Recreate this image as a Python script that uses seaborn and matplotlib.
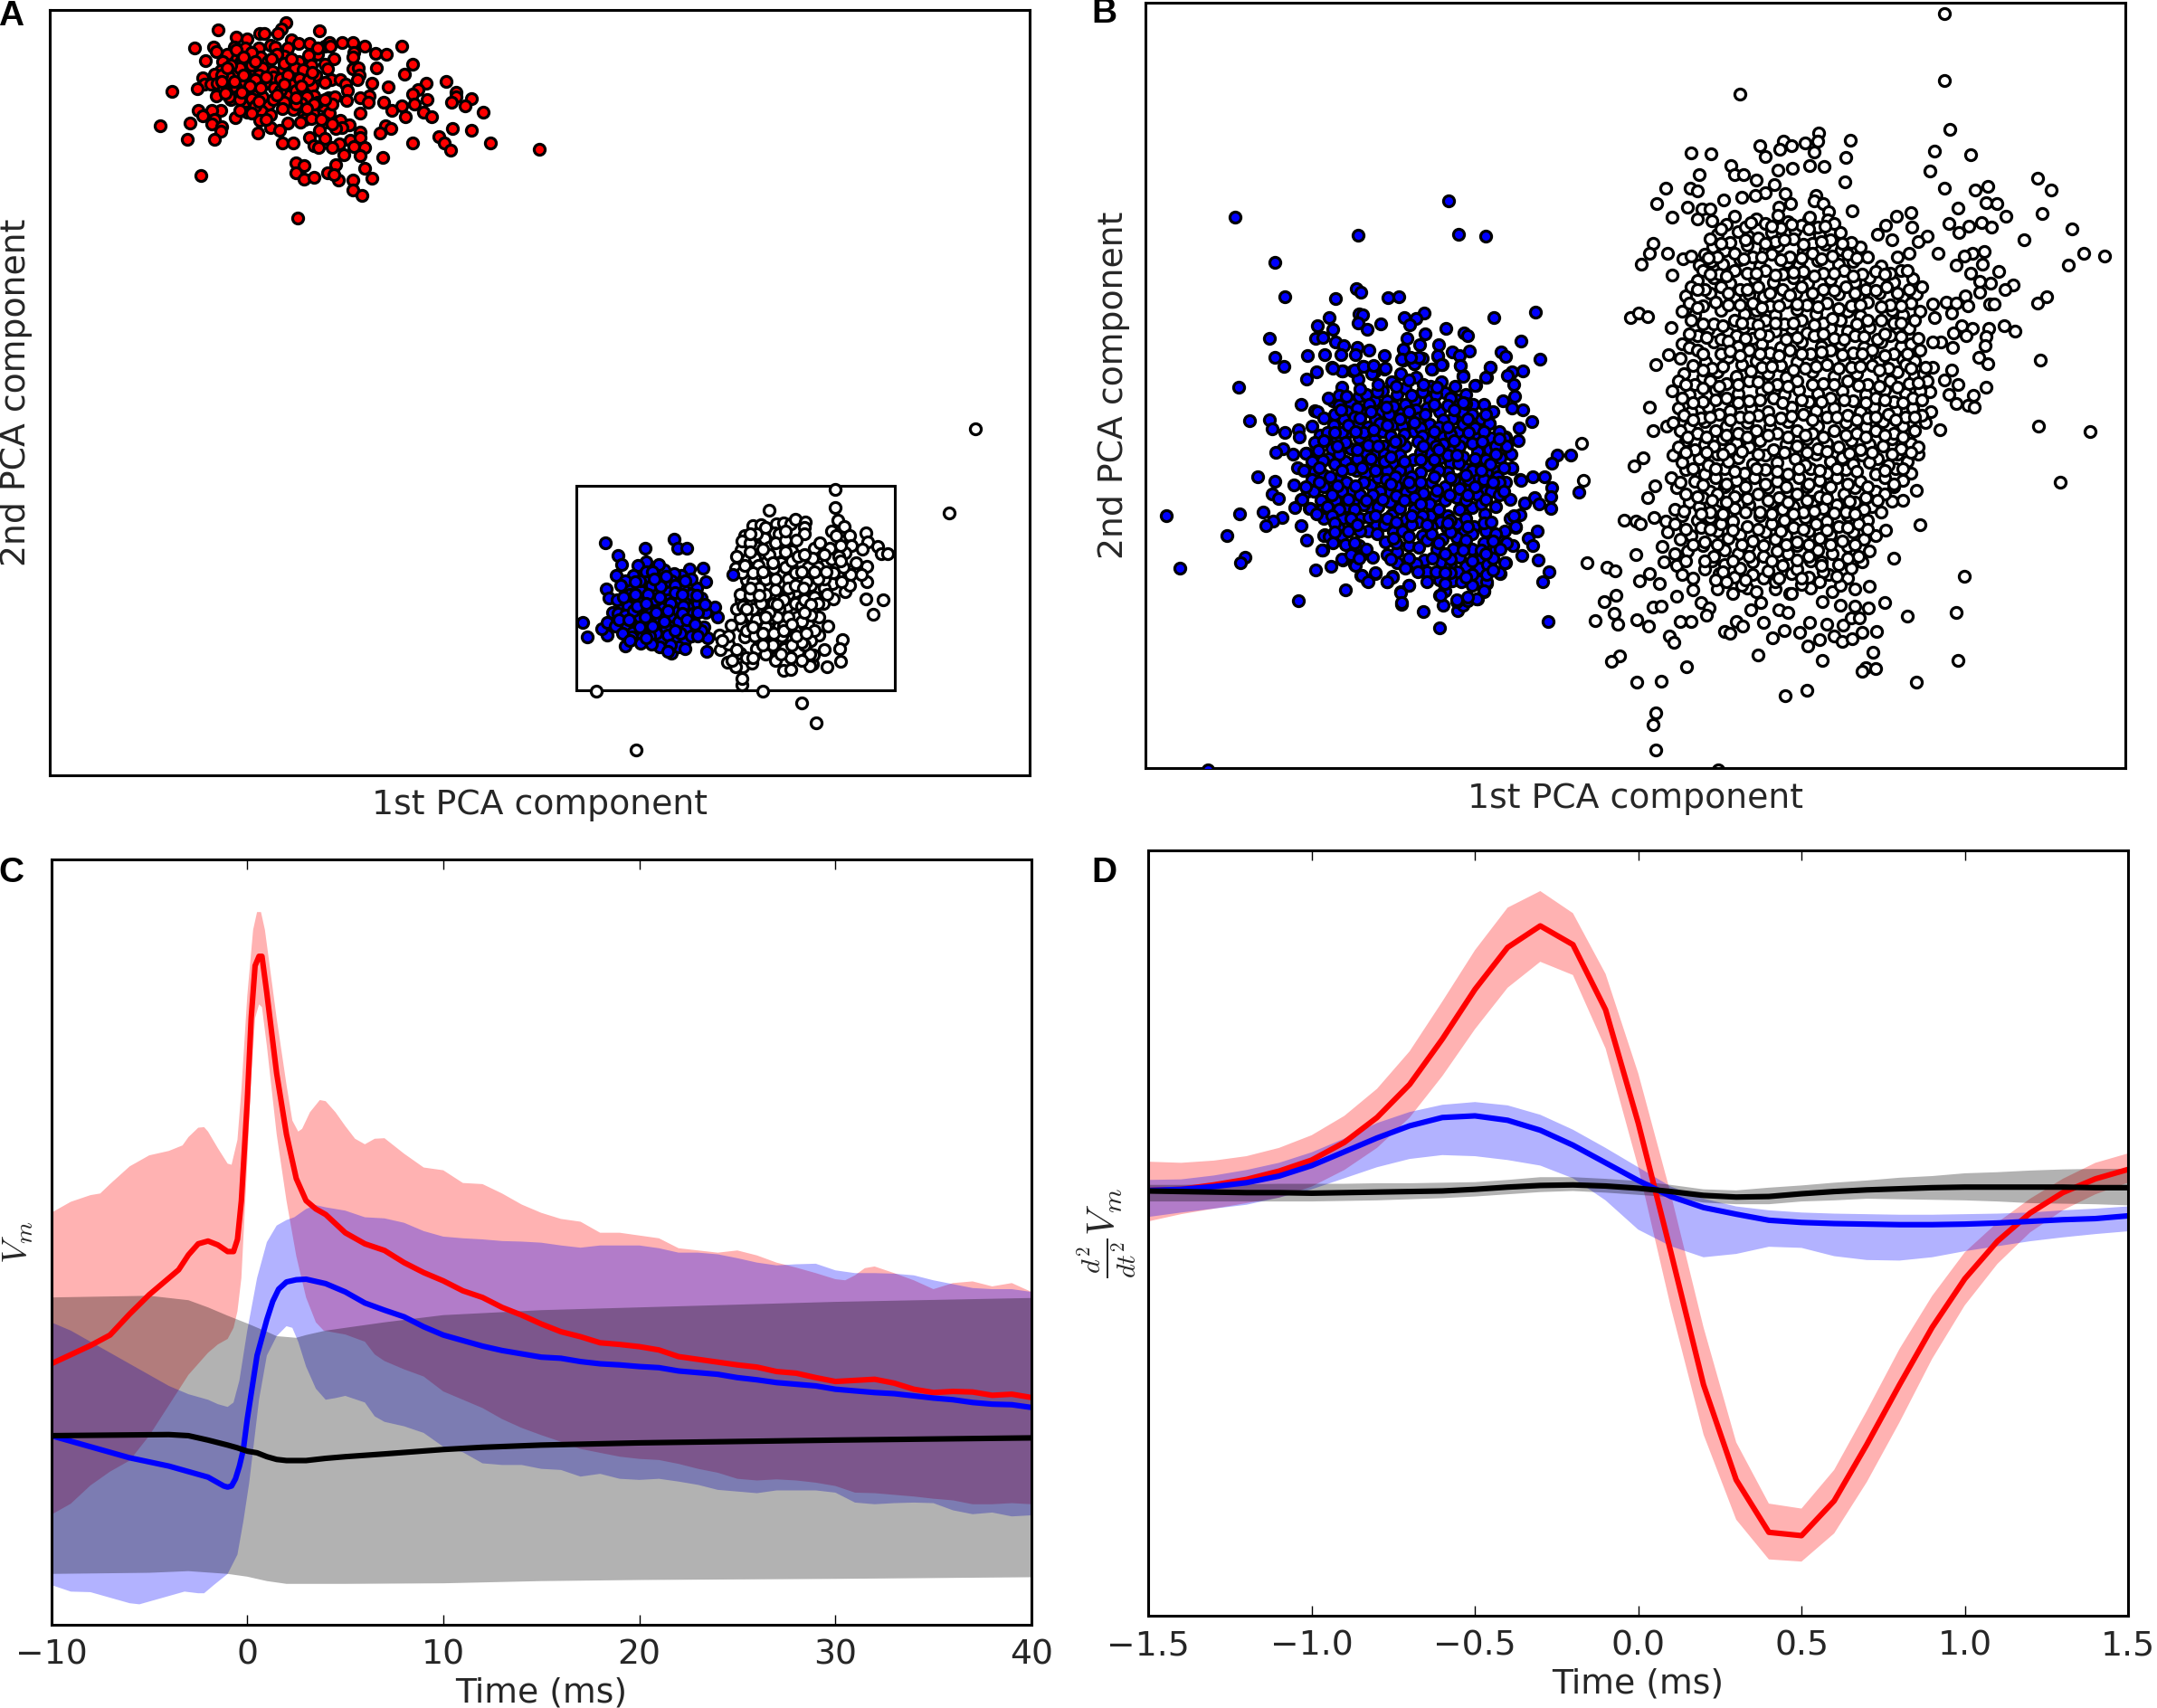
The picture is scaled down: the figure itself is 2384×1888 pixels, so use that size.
import numpy as np
import matplotlib
matplotlib.use("Agg")
import matplotlib.pyplot as plt
from matplotlib.patches import Rectangle
import seaborn as sns

# ---------- Panel A ----------
A_RED = [(773,75),(762,95),(752,112),(590,100),(864,103),(703,110),(715,112),(640,122),(668,128),(788,133),(808,145),(838,143),(880,152),(893,140),(895,153),(925,140),(955,140),(988,153),(1088,153),(527,158),(578,157),(585,172),(635,156),(665,160),(700,160),(733,150),(745,157),(780,158),(1016,177),(1045,180),(958,173),(955,190),(903,195),(860,180),(836,183),(770,185),(705,190),(645,197),(628,187),(615,180),(557,202),(603,205),(655,208),(725,205),(808,205),(842,215),(880,212),(1117,214),(1018,224),(888,228),(955,228),(970,225),(798,225),(820,230),(768,232),(737,237),(688,232),(597,234),(580,245),(642,243),(1095,245),(972,250),(855,250),(968,265),(897,263),(880,272),(920,265),(937,280),(1008,276),(1153,276),(1208,270),(1052,289),(549,257),(553,278),(533,293),(570,280),(588,275),(615,282),(655,275),(718,277),(787,280),(845,284),(742,290),(692,303),(673,292),(640,290),(605,295),(466,303),(585,318),(640,322),(625,330),(680,327),(940,300),(1132,298),(1235,305),(1118,312),(1235,322),(1277,327),(1000,317),(975,323),(890,325),(907,322),(850,318),(830,322),(778,318),(938,332),(1157,330),(1222,340),(1122,345),(1088,352),(1040,340),(998,340),(875,350),(817,343),(727,346),(660,350),(597,365),(573,367),(537,365),(1260,352),(1060,365),(793,363),(708,368),(670,372),(733,380),(975,375),(1308,373),(1147,372),(1097,386),(1168,388),(847,375),(893,375),(822,382),(548,385),(638,390),(580,395),(702,400),(826,397),(843,392),(880,405),(778,407),(814,405),(433,416),(514,408),(573,412),(601,420),(920,398),(945,415),(925,423),(910,425),(733,422),(758,432),(865,432),(1043,416),(1058,425),(1028,440),(1225,427),(1277,433),(597,435),(698,440),(975,438),(507,461),(580,461),(837,457),(880,460),(947,465),(975,455),(1188,452),(765,473),(795,473),(1117,475),(1202,475),(1327,475),(918,477),(850,482),(862,490),(898,490),(958,485),(987,490),(1220,497),(1460,495),(932,514),(975,516),(1037,523),(908,545),(801,540),(823,549),(987,557),(800,572),(887,572),(823,595),(849,589),(917,596),(1008,592),(955,597),(543,583),(955,631),(981,647),(805,724),(905,580),(680,215),(710,225),(650,225),(625,215),(700,250),(740,255),(760,260),(810,260),(690,265),(620,255),(600,250),(760,300),(800,300),(710,320),(740,330),(650,330),(620,320),(690,350),(770,340),(800,345),(860,340),(900,345),(770,210),(750,180),(680,175),(640,165),(660,190),(690,205),(735,195),(790,195),(615,225),(660,250),(720,255),(780,250),(835,265),(600,270),(635,270),(675,285),(705,290),(770,280),(815,285),(610,310),(655,305),(700,335),(750,315),(800,325),(850,345),(650,365),(680,375),(765,360),(720,395),(870,395),(900,410),(880,330),(830,360),(860,160),(845,240)]
A_BLUE = [(192,301),(316,317),(407,287),(417,318),(446,318),(233,341),(243,372),(228,408),(195,452),(205,482),(123,565),(137,612),(198,607),(181,584),(198,565),(256,641),(508,659),(510,615),(398,665),(588,405),(495,385),(454,388),(503,428),(540,545),(531,512),(505,530),(498,578),(491,483),(475,450),(460,420),(428,407),(405,402),(375,391),(357,372),(318,362),(293,375),(318,395),(281,407),(360,428),(397,425),(265,445),(300,452),(345,463),(388,462),(435,450),(440,482),(460,515),(408,518),(351,506),(372,515),(303,517),(307,490),(243,508),(263,510),(230,490),(215,530),(232,535),(280,560),(330,538),(360,560),(395,548),(465,535),(445,578),(405,575),(380,583),(318,568),(302,604),(260,575),(225,575),(278,598),(368,627),(410,623),(440,623),(458,610),(490,590),(350,600),(420,645),(360,645),(303,632),(275,612),(330,610),(270,470),(320,430),(345,490),(420,560),(300,545),(480,500),(385,490),(290,490),(255,540),(420,490),(335,440),(300,425),(380,430),(410,440),(340,395),(380,410),(440,425),(255,425),(285,430),(240,440),(250,480),(285,470),(325,470),(365,445),(410,465),(460,470),(480,530),(500,505),(435,510),(395,500),(325,515),(280,525),(235,555),(265,555),(315,545),(350,530),(385,525),(430,535),(445,555),(375,560),(340,575),(300,580),(245,600),(270,625),(335,635),(385,605),(425,600),(470,570),(480,610),(440,650),(395,640),(385,660),(320,615),(360,480),(290,510),(320,500),(410,590),(475,475),(345,420),(430,470)]
A_WHITE = [(1338,-78),(905,122),(905,182),(700,192),(1256,200),(912,224),(933,246),(893,260),(1000,268),(950,275),(1005,298),(1035,312),(1047,335),(1068,337),(988,322),(955,310),(1002,378),(968,365),(1002,428),(1000,486),(1053,490),(1022,537),(936,462),(927,620),(918,652),(920,693),(878,712),(870,655),(882,575),(835,702),(825,707),(165,792),(288,987),(680,792),(800,830),(845,897),(615,772),(615,750),(620,712),(597,712),(648,700),(570,695),(610,665),(550,655),(575,637),(547,607),(575,610),(583,572),(617,575),(625,612),(660,650),(684,605),(643,543),(610,548),(600,520),(613,490),(645,498),(663,478),(718,478),(695,515),(757,510),(840,512),(788,545),(730,577),(710,550),(758,605),(725,620),(748,650),(790,660),(768,682),(720,690),(745,723),(768,720),(838,672),(825,668),(798,617),(855,605),(798,585),(868,500),(900,487),(845,460),(807,465),(780,462),(727,443),(695,446),(632,450),(610,470),(630,423),(667,445),(735,400),(767,400),(825,405),(862,413),(895,435),(947,407),(908,377),(876,368),(800,368),(735,365),(692,362),(643,385),(633,353),(613,323),(625,275),(650,243),(675,240),(722,238),(745,235),(768,237),(780,222),(812,232),(808,248),(808,270),(718,268),(685,285),(785,290),(700,315),(723,330),(770,328),(840,318),(858,300),(888,318),(935,333),(908,275),(893,355),(952,405),(985,405),(597,385),(600,345),(615,295),(655,350),(705,400),(690,470),(740,440),(760,470),(830,440),(870,450),(650,520),(680,545),(665,585),(745,575),(780,590),(820,570),(855,545),(700,600),(700,650),(670,620),(830,625),(810,640),(780,500),(730,520),(800,510),(820,380),(790,430),(850,380),(750,330),(660,410),(700,340),(600,655),(630,680),(555,625),(585,690),(690,670),(950,440),(915,345),(870,420),(760,420),(660,315),(640,300),(620,510),(800,690),(730,270),(660,270),(640,330),(680,320),(665,375),(715,385),(690,420),(650,430),(615,400),(640,475),(675,500),(630,520),(660,555),(630,590),(655,610),(690,580),(725,545),(760,545),(745,490),(715,500),(810,490),(840,480),(850,420),(815,430),(780,400),(750,380),(835,350),(870,340),(920,310),(900,400),(930,380),(925,430),(880,470),(850,500),(830,540),(800,560),(770,620),(740,610),(710,640),(680,640),(735,670),(800,630),(840,590),(770,640),(650,680),(720,300),(750,290),(750,260),(690,250),(640,270),(770,360),(720,420),(760,450),(700,530),(670,450),(625,375),(650,400),(680,395),(710,365),(790,345),(810,340),(800,395),(840,395),(875,395),(920,360),(780,440),(805,450),(720,455),(670,475),(640,450),(650,580),(680,600),(715,600),(745,590),(785,610),(815,600),(830,505),(810,530),(770,570),(725,505),(690,545)]

# ---------- Panel B ----------
B_BLUE_OUTER = [(265,1552),(1011,405),(349,437),(730,474),(1041,473),(1126,475),(473,529),(505,598),(725,582),(739,588),(660,602),(823,600),(856,598),(1280,629),(934,631),(642,639),(733,633),(745,634),(873,640),(909,642),(1152,639),(605,656),(730,650),(758,663),(802,652),(651,664),(890,655),(1001,662),(939,673),(1058,670),(1069,677),(456,681),(599,681),(622,680),(882,682),(1236,687),(662,690),(686,697),(728,700),(920,695),(980,694),(1022,709),(1076,708),(1174,709),(1188,719),(871,704),(765,705),(722,715),(677,715),(628,715),(575,716),(474,720),(811,717),(870,725),(930,722),(976,718),(1045,716),(1293,724),(500,739),(650,740),(745,738),(905,733),(990,735),(1047,737),(1140,740),(602,749),(683,748),(715,747),(780,750),(960,743),(1240,747),(1207,750),(1193,757),(1128,761),(1056,757),(570,764),(730,763),(1213,775),(360,780),(1096,776),(1216,798),(555,814),(1178,807),(1207,823),(1240,826),(396,847),(456,845),(597,828),(1269,850),(1137,854),(1230,862),(465,865),(505,871),(547,866),(548,880),(1225,888),(1187,881),(497,905),(475,912),(530,915),(570,913),(1347,917),(1390,917),(1329,934),(544,943),(562,948),(420,961),(472,970),(532,977),(1207,945),(1270,961),(1308,960),(1233,967),(1330,982),(1328,1000),(1276,1002),(1414,991),(465,996),(485,1005),(555,1007),(575,990),(535,1022),(580,1024),(1245,1013),(1290,1015),(1327,1025),(1233,1037),(436,1032),(365,1036),(137,1039),(495,1043),(467,1050),(445,1059),(555,1060),(1200,1045),(1218,1062),(1285,1070),(1256,1085),(324,1080),(628,1078),(570,1088),(1270,1100),(1210,1100),(1165,1080),(622,1108),(380,1123),(366,1134),(180,1145),(598,1148),(648,1142),(682,1128),(720,1138),(1237,1120),(1288,1128),(1186,1133),(1321,1153),(1170,1156),(1303,1172),(740,1160),(760,1170),(783,1155),(820,1173),(838,1162),(692,1188),(888,1180),(863,1193),(545,1211),(864,1217),(933,1232),(994,1220),(983,1200),(998,1190),(1040,1230),(1055,1220),(1070,1210),(1100,1207),(1120,1192),(1128,1175),(1035,1212),(1319,1253),(984,1265)]
B_BLUE_CORE = [(250,295),(305,325),(347,250),(390,235),(445,250),(495,262),(543,292),(592,312),(625,290),(660,318),(690,288),(220,338),(280,347),(357,340),(400,340),(433,318),(458,297),(492,335),(540,335),(580,275),(385,305),(415,275),(167,375),(205,330),(268,375),(322,372),(380,375),(447,381),(494,370),(573,375),(630,335),(685,352),(720,350),(190,395),(255,400),(335,425),(420,418),(470,400),(540,417),(615,398),(650,378),(710,400),(750,375),(738,413),(150,422),(222,420),(272,440),(357,467),(385,440),(488,440),(635,440),(585,458),(540,467),(695,456),(655,472),(745,462),(178,452),(160,478),(232,463),(305,462),(387,488),(417,497),(460,489),(585,484),(615,503),(698,508),(738,502),(790,462),(130,512),(215,497),(280,498),(327,510),(362,515),(540,510),(485,533),(577,527),(775,527),(810,515),(795,490),(205,530),(185,538),(260,540),(367,546),(418,545),(465,565),(534,553),(608,545),(660,563),(700,543),(752,570),(123,570),(158,572),(190,585),(240,598),(296,570),(326,580),(400,570),(497,598),(601,575),(693,590),(813,562),(218,623),(282,640),(345,617),(370,595),(453,600),(520,644),(592,625),(646,597),(725,640),(792,610),(842,603),(157,640),(180,670),(228,670),(293,673),(346,694),(403,638),(461,642),(558,655),(630,660),(672,632),(745,640),(118,667),(143,695),(180,702),(263,690),(320,685),(407,675),(490,700),(543,720),(600,720),(680,693),(722,715),(808,665),(855,677),(190,730),(252,730),(310,728),(362,752),(415,716),(463,733),(575,740),(630,748),(688,755),(725,770),(820,720),(238,758),(285,750),(337,770),(390,750),(420,775),(515,785),(597,758),(655,775),(582,798),(630,792),(720,810),(790,770),(190,785),(250,785),(207,790),(220,810),(305,818),(392,808),(470,820),(532,802),(618,830),(680,830),(758,832),(795,810),(825,755),(260,815),(183,833),(250,865),(278,850),(316,850),(352,858),(400,848),(433,840),(522,867),(580,872),(640,858),(712,865),(790,875),(293,885),(433,875),(495,880),(608,885),(660,888),(705,895),(733,882),(530,905),(632,905),(417,923),(360,908),(315,918),(335,940),(400,940),(572,932),(615,937),(645,940),(705,935),(730,940),(772,910),(470,950),(445,975),(590,968),(720,970),(575,985),(697,995),(630,1000),(447,1008),(665,990),(250,240),(290,238),(320,225),(220,230),(355,222),(392,232),(448,202),(490,215),(547,233),(568,190),(580,218),(505,195),(477,195),(642,222),(652,257),(725,262),(740,228),
(240,320),(330,318),(365,310),(480,322),(515,310),(560,318),(610,330),(240,355),(300,362),(340,352),(420,358),(460,350),(530,362),(600,355),(660,348),(225,385),(290,392),(360,400),(405,385),(505,395),(585,402),(680,385),(300,420),(375,415),(450,422),(510,430),(570,425),(650,418),(690,430),(770,440),(200,445),(250,445),(320,445),(410,455),(455,450),(515,455),(610,450),(670,445),(720,440),(190,470),(260,478),(335,485),(440,470),(500,475),(560,490),(640,490),(680,480),(760,490),(170,505),(240,515),(300,530),(390,515),(440,520),(510,510),(600,520),(650,525),(725,535),(760,515),(150,540),(225,550),(280,565),(340,545),(390,540),(440,570),(510,575),(570,570),(635,545),(680,570),(730,575),(785,560),(150,600),(210,590),(265,610),(320,610),(395,600),(430,620),(480,625),(545,610),(620,600),(670,600),(720,600),(765,590),(130,625),(190,625),(250,640),(310,650),(375,640),(430,655),(490,660),(540,680),(590,670),(660,670),(700,650),(770,650),(200,690),(240,700),(290,700),(370,690),(440,695),(515,720),(570,700),(640,700),(710,680),(760,690),(215,720),(280,730),(340,725),(400,730),(500,740),(545,755),(610,735),(660,730),(720,745),(270,770),(310,770),(365,780),(450,770),(480,750),(545,780),(610,775),(680,780),(760,780),(290,810),(430,810),(505,825),(565,830),(655,815),(710,835),(305,860),(470,860),(550,860),(610,865),(680,870),(750,860),(560,905),(680,915),(610,910),(730,915),(590,945),(680,950),
(265,325),(310,300),(370,285),(430,290),(470,270),(520,285),(565,295),(650,345),(245,370),(310,395),(345,375),(395,360),(470,375),(525,385),(555,350),(620,370),(270,420),(355,435),(400,420),(440,400),(490,410),(555,440),(600,425),(665,400),(725,385),(225,445),(295,440),(370,490),(425,475),(520,490),(570,500),(620,470),(715,475),(770,465),(235,490),(300,500),(345,530),(410,525),(455,540),(510,535),(555,535),(630,520),(690,530),(740,550),(175,560),(250,570),(315,560),(360,570),(425,590),(480,590),(555,590),(610,595),(660,585),(710,570),(770,610),(175,610),(235,620),(295,620),(350,650),(410,615),(470,610),(510,610),(565,635),(640,630),(690,625),(750,610),(215,650),(270,665),(330,670),(385,665),(455,670),(510,680),(605,650),(665,650),(725,665),(785,640),(165,715),(225,745),(300,750),(360,720),(430,740),(480,720),(530,750),(600,745),(665,755),(745,740),(225,775),(420,795),(470,790),(570,810),(660,800),(750,805),(775,830),(330,830),(410,865),(460,895),(590,845),(650,835),(725,845),(500,905),(590,910),(660,925),(750,900),(530,940)]
B_WHITE_OUTER = [(388,1552),(995,28),(995,163),(445,190),(1010,261),(658,268),(743,283),(563,285),(585,293),(622,288),(655,284),(500,293),(553,301),(645,306),(970,305),(313,308),(368,309),(515,315),(1066,311),(730,318),(422,334),(588,339),(633,333),(672,335),(547,343),(337,351),(957,345),(430,352),(455,352),(490,363),(727,366),(1247,360),(245,379),(312,379),(330,385),(537,372),(997,380),(1078,383),(1113,376),(1284,383),(567,390),(513,388),(487,394),(402,402),(450,397),(222,410),(304,417),(344,422),(365,421),(650,394),(645,405),(670,410),(1108,409),(1137,411),(1032,420),(685,427),(748,424),(905,428),(866,435),(264,438),(330,442),(1162,435),(1258,430),(630,442),(550,418),(583,410),(1007,450),(1062,455),(1095,449),(1123,457),(838,454),(908,458),(1340,462),(213,490),(1211,483),(815,473),(950,476),(1035,468),(855,484),(925,487),(202,510),(250,511),(1372,511),(1427,516),(1028,535),(1072,511),(1102,507),(1050,515),(1330,535),(180,533),(292,521),(315,515),(263,554),(1141,547),(1067,550),(980,510),(870,518),(900,510),(880,545),(1097,533),(1120,570),(1180,575),(1160,583),(1090,567),(1092,589),(1052,597),(1272,598),(1247,611),(1118,612),(1130,612),(1000,609),(1028,611),(965,612),(152,640),(172,630),(198,638),(1060,617),(1015,630),(970,640),(260,660),(1157,656),(1187,667),(1115,661),(1072,661),(1042,657),(1020,670),(1055,677),(1108,678),(1105,697),(985,690),(965,690),(1018,700),(1253,725),(1088,720),(1113,732),(253,714),(220,735),(965,740),(1015,745),(1033,775),(1107,780),(997,765),(957,790),(1008,795),(1075,797),(1027,813),(1060,817),(1077,820),(1250,858),(203,821),(212,868),(983,866),(1387,870),(248,858),(1308,972),(160,938),(185,923),(20,893),(25,968),(925,915),(197,1003),(217,979),(883,1009),(135,1048),(165,1050),(177,1055),(930,1058),(838,1068),(165,1117),(860,1124),(35,1134),(88,1143),(110,1150),(175,1170),(203,1156),(230,1175),(1050,1161),(112,1200),(80,1212),(108,1236),(55,1250),(117,1258),(168,1248),(200,1261),(213,1223),(233,1222),(275,1202),(320,1189),(340,1215),(362,1225),(356,1240),(285,1252),(315,1252),(255,1282),(267,1294),(795,1181),(835,1214),(792,1225),(895,1241),(1028,1235),(813,1272),(775,1275),(803,1315),(668,1331),(495,1319),(1032,1331),(783,1346),(775,1352),(810,1348),(303,1344),(122,1321),(100,1333),(167,1375),(233,1372),(920,1374),(218,1437),(213,1460),(218,1512),(568,1402),(627,1391),(405,1273),(418,1277),(435,1252),(453,1261),(475,1228),(502,1215),(508,1254),(533,1286),(565,1271),(607,1274),(628,1301),(633,1255),(660,1288),(698,1282),(720,1293),(748,1287),(680,1258),(723,1260),(745,1245),(768,1245),(550,1228),(575,1234),(715,1220),(756,1222),(667,1212),(580,1195)]
B_WHITE_CORE = [(370,444),(430,436),(490,441),(548,434),(575,446),(632,438),(683,443),(385,472),(440,466),(468,476),(530,468),(573,473),(595,464),(660,474),(715,468),(373,497),(405,505),(465,494),(515,503),(548,496),(615,506),(675,493),(718,503),(770,497),(335,534),(368,526),(400,532),(445,524),(498,536),(572,528),(605,534),(655,525),(710,533),(750,527),(825,536),(330,566),(375,560),(420,570),(485,562),(535,568),(590,560),(628,570),(690,563),(755,568),(795,560),(860,568),(910,562),(300,597),(365,590),(430,600),(470,592),(510,598),(597,590),(655,600),(712,592),(765,597),(820,590),(883,600),(920,592),(290,628),(325,635),(395,625),(458,632),(490,626),(540,635),(600,624),(650,632),(735,628),(770,636),(855,626),(885,634),(930,628),(360,663),(415,670),(455,660),(540,667),(585,661),(625,670),(690,662),(735,668),(795,660),(870,667),(900,662),(290,692),(310,700),(375,690),(440,698),(505,692),(555,700),(610,690),(665,698),(715,693),(780,700),(825,690),(880,698),(905,692),(285,722),(352,730),(415,720),(490,728),(540,722),(600,730),(665,720),(725,728),(785,722),(818,730),(885,723),(915,728),(295,752),(345,760),(385,750),(435,758),(520,752),(570,760),(640,750),(700,758),(760,752),(830,760),(870,750),(915,758),(940,752),(262,787),(310,795),(380,785),(440,793),(505,788),(565,795),(605,785),(655,793),(720,788),(785,795),(835,785),(890,793),(930,788),(280,822),(315,830),(360,820),(420,828),(475,822),(520,830),(585,820),(650,828),(700,822),(770,830),(805,820),(865,828),(910,822),(960,830),(265,852),(310,860),(350,850),(410,858),(465,852),(525,860),(575,850),(655,858),(730,852),(785,860),(830,850),(885,858),(945,852),(300,887),(350,895),(400,885),(435,893),(500,887),(570,895),(625,885),(680,893),(745,887),(795,895),(855,885),(905,893),(265,917),(335,925),(385,915),(440,923),(515,917),(595,925),(650,915),(720,923),(775,917),(815,925),(870,915),(300,947),(350,955),(405,945),(458,953),(515,947),(575,955),(635,945),(680,953),(730,947),(810,955),(865,945),(905,953),(275,982),(365,990),(405,980),(440,988),(520,982),(575,990),(625,980),(680,988),(755,982),(810,990),(860,980),(920,988),(310,1012),(335,1020),(395,1010),(470,1018),(530,1012),(590,1020),(640,1010),(705,1018),(755,1012),(800,1020),(855,1010),(215,1042),(245,1050),(290,1040),(330,1048),(365,1042),(425,1050),(500,1040),(565,1048),(620,1042),(680,1050),(735,1040),(790,1048),(250,1072),(315,1080),(385,1070),(445,1078),(515,1072),(570,1080),(630,1070),(690,1078),(750,1072),(810,1080),(235,1102),(305,1110),(345,1100),(405,1108),(470,1102),(545,1110),(600,1100),(655,1108),(735,1102),(795,1110),(240,1132),(275,1140),(370,1130),(405,1138),(480,1132),(560,1140),(635,1130),(710,1138),(775,1132),(290,1157),(320,1165),(390,1155),(430,1163),(480,1157),(510,1165),(585,1155),(630,1163),(685,1157),(735,1165),(385,1187),(425,1195),(465,1185),(490,1193),(540,1187),(585,1195),(635,1185),(695,1193),(755,1187),
(410,452),(460,458),(515,450),(555,460),(610,454),(655,458),(700,450),(365,482),(420,488),(495,480),(540,487),(590,482),(640,490),(690,484),(745,488),(350,512),(385,518),(430,510),(480,517),(530,512),(580,518),(640,510),(695,516),(735,512),(790,518),(345,545),(390,552),(430,545),(465,550),(515,545),(560,552),(615,546),(670,550),(725,545),(775,552),(810,546),(850,550),(895,545),(315,578),(350,584),(395,577),(445,583),(495,578),(560,584),(610,577),(670,583),(730,578),(785,584),(840,577),(900,583),(935,578),(310,610),(345,616),(380,609),(445,615),(480,610),(525,616),(570,609),(625,615),(680,610),(745,616),(790,609),(850,615),(905,610),(315,645),(375,652),(430,645),(475,650),(515,645),(565,652),(610,646),(670,650),(715,645),(760,652),(825,646),(860,650),(915,645),(330,677),(395,683),(435,677),(480,682),(520,677),(570,683),(645,677),(700,682),(755,677),(815,683),(850,677),(925,682),(330,706),(395,712),(470,705),(525,711),(580,706),(635,712),(690,705),(750,711),(800,706),(860,712),(930,706),(320,736),(370,742),(450,735),(505,741),(555,736),(620,742),(680,735),(745,741),(800,736),(845,742),(890,735),(945,741),(280,768),(325,774),(365,767),(410,773),(470,768),(545,774),(600,767),(670,773),(735,768),(790,774),(850,767),(900,773),(950,768),(290,803),(345,809),(410,802),(470,808),(535,803),(630,809),(690,802),(750,808),(810,803),(860,809),(910,802),(295,836),(340,842),(390,835),(445,841),(495,836),(555,842),(615,835),(680,841),(735,836),(790,842),(845,835),(890,841),(935,836),(285,868),(330,874),(380,867),(440,873),(490,868),(545,874),(600,867),(640,873),(700,868),(760,874),(810,867),(860,873),(915,868),(280,900),(325,906),(375,899),(420,905),(470,900),(535,906),(600,899),(655,905),(710,900),(770,906),(830,899),(880,905),(925,900),(290,931),(360,937),(415,930),(480,936),(545,931),(620,937),(690,930),(750,936),(795,931),(845,937),(895,930),(260,963),(325,969),(380,962),(435,968),(485,963),(545,969),(605,962),(660,968),(705,963),(770,969),(835,962),(885,968),(300,996),(345,1002),(385,995),(430,1001),(495,996),(550,1002),(600,995),(660,1001),(725,996),(785,1002),(835,995),(270,1026),(365,1032),(430,1025),(500,1031),(560,1026),(615,1032),(670,1025),(730,1031),(780,1026),(825,1032),(270,1056),(340,1062),(395,1055),(465,1061),(530,1056),(590,1062),(650,1055),(710,1061),(765,1056),(285,1086),(350,1092),(415,1085),(480,1091),(540,1086),(600,1092),(660,1085),(720,1091),(780,1086),(270,1116),(375,1122),(440,1115),(510,1121),(575,1116),(630,1122),(695,1115),(765,1121),(350,1146),(400,1152),(445,1145),(520,1151),(600,1146),(670,1152),(745,1145),(410,1173),(450,1179),(540,1172),(610,1178),(660,1173),(715,1179),
(395,462),(475,448),(530,456),(585,452),(630,462),(675,456),(395,490),(460,484),(515,490),(565,484),(615,492),(665,486),(720,490),(360,520),(455,522),(505,518),(555,524),(610,520),(665,522),(760,520),(365,552),(410,556),(490,550),(540,554),(590,548),(645,556),(700,550),(750,556),(835,552),(330,584),(415,590),(465,584),(525,590),(580,594),(640,590),(700,586),(755,590),(810,586),(870,590),(330,620),(415,614),(505,620),(550,616),(600,612),(655,618),(710,622),(770,614),(825,618),(880,616),(345,652),(400,656),(450,650),(495,654),(540,650),(590,650),(645,654),(695,642),(790,645),(880,650),(310,672),(355,680),(415,688),(460,682),(500,672),(600,680),(670,672),(725,684),(780,678),(835,672),(880,678),(345,712),(420,708),(445,716),(500,712),(550,716),(610,712),(665,710),(720,714),(775,712),(835,716),(895,712),(345,745),(400,738),(475,748),(530,738),(590,745),(650,738),(710,742),(770,738),(820,745),(905,742),(300,775),(345,782),(390,778),(440,775),(495,770),(520,780),(575,778),(640,774),(700,774),(765,776),(820,778),(870,780),(925,772),(320,812),(380,805),(440,812),(500,806),(560,812),(610,806),(665,810),(725,806),(785,812),(835,806),(885,812),(935,806),(320,845),(365,840),(420,846),(470,840),(525,845),(585,838),(640,846),(705,840),(760,845),(810,840),(865,845),(915,840),(305,880),(355,880),(410,876),(465,880),(520,876),(575,880),(620,876),(670,880),(730,876),(785,880),(835,876),(885,880),(300,912),(355,912),(400,916),(450,910),(495,916),(565,912),(625,912),(680,910),(740,914),(800,912),(855,916),(905,912),(320,945),(380,945),(430,950),(490,945),(545,950),(605,945),(660,948),(705,945),(760,950),(835,948),(885,945),(285,972),(345,978),(410,976),(460,980),(515,975),(570,980),(630,976),(690,980),(735,976),(790,980),(860,975),(330,1000),(370,1008),(410,1012),(465,1005),(520,1008),(575,1012),(625,1008),(680,1005),(740,1010),(815,1008),(295,1030),(340,1035),(400,1036),(460,1032),(530,1035),(590,1036),(645,1030),(700,1034),(755,1036),(300,1066),(365,1066),(425,1068),(495,1066),(555,1070),(615,1066),(680,1068),(735,1062),(790,1066),(320,1098),(385,1098),(450,1098),(510,1100),(570,1098),(630,1098),(690,1098),(755,1098),(300,1130),(350,1130),(425,1130),(470,1122),(530,1130),(600,1128),(665,1132),(735,1125),(380,1168),(460,1168),(550,1165),(610,1165),(665,1140),(705,1162)]

# ---------- Panel C: (time ms, level) ----------
C_RED = [(-10,945),(-8,912),(-7,893),(-6,855),(-5,820),(-4,790),(-3.5,775),(-3,748),(-2.5,728),(-2,723),(-1.5,730),(-1,742),(-.7,742),(-.5,720),(-.3,650),(0,470),(.2,320),(.4,225),(.6,208),(.75,208),(1,275),(1.5,420),(2,530),(2.5,610),(3,650),(3.5,665),(4,675),(5,708),(6,728),(7,740),(8,762),(9,780),(10,795),(11,813),(12,825),(13,843),(14,857),(15,873),(16,887),(17,896),(18,907),(19,910),(20,914),(21,920),(22,932),(23,937),(24,942),(25,947),(26,951),(27,959),(28,962),(29,970),(30,977),(31,975),(32,973),(33,980),(34,991),(35,997),(36,995),(37,996),(38,1002),(39,1000),(40,1006)]
C_RED_UP = [(-10,672),(-9,652),(-8,640),(-7.5,637),(-7,620),(-6,588),(-5,568),(-4,560),(-3.3,550),(-3,535),(-2.5,518),(-2.2,517),(-2,525),(-1.5,555),(-1,583),(-.8,585),(-.5,540),(-.3,450),(0,280),(.3,160),(.5,128),(.7,128),(.9,160),(1.5,320),(2,440),(2.3,505),(2.6,525),(2.8,520),(3.2,490),(3.7,468),(4,470),(4.5,490),(5,515),(5.5,538),(6,548),(6.5,538),(7,537),(8,565),(9,590),(10,595),(11,618),(12,620),(13,637),(14,657),(15,672),(16,683),(17,688),(18,708),(19,708),(20,713),(21,718),(22,736),(23,740),(24,744),(25,740),(26,749),(27,762),(28,771),(29,781),(30,792),(30.5,794),(31,785),(31.5,772),(32,769),(33,781),(34,794),(35,810),(36,799),(37,796),(38,805),(39,799),(40,815)]
C_RED_LO = [(-10,1218),(-9,1198),(-8,1165),(-7,1140),(-6,1120),(-5,1075),(-4,1020),(-3,965),(-2,925),(-1.5,910),(-1,900),(-.7,880),(-.5,850),(-.3,790),(0,580),(.2,430),(.4,320),(.6,295),(.75,300),(1,370),(1.5,530),(2,650),(2.5,750),(3,825),(3.5,870),(3.9,885),(5,892),(6,905),(6.5,928),(7,940),(8,955),(9,968),(10,995),(11,1010),(12,1025),(13,1045),(14,1061),(15,1074),(16,1086),(17,1099),(18,1106),(19,1113),(20,1117),(21,1119),(22,1126),(23,1135),(24,1142),(25,1153),(26,1156),(27,1154),(28,1156),(29,1160),(30,1166),(31,1178),(32,1179),(33,1182),(34,1185),(35,1189),(36,1192),(37,1199),(38,1199),(39,1197),(40,1199)]
C_BLUE = [(-10,1075),(-8,1095),(-6,1115),(-4,1130),(-3,1140),(-2,1150),(-1.5,1160),(-1.2,1166),(-1,1168),(-.8,1166),(-.6,1153),(-.4,1130),(-.2,1100),(0,1045),(.5,930),(1,865),(1.3,832),(1.6,810),(2,797),(2.5,793),(3,792),(4,800),(5,815),(6,835),(7,848),(8,860),(9,878),(10,893),(11,903),(12,913),(13,921),(14,927),(15,933),(16,935),(17,941),(18,945),(19,947),(20,950),(21,952),(22,958),(23,961),(24,964),(25,970),(26,974),(27,979),(28,982),(29,985),(30,991),(31,994),(32,997),(33,999),(34,1003),(35,1007),(36,1010),(37,1015),(38,1018),(39,1019),(40,1024)]
C_BLUE_UP = [(-10,870),(-9,885),(-8,905),(-7,925),(-6,945),(-5,965),(-4,985),(-3,1000),(-2,1010),(-1.5,1018),(-1,1023),(-.7,1015),(-.4,975),(0,885),(.5,790),(1,725),(1.5,695),(2,685),(2.4,680),(3,665),(3.5,658),(4,662),(5,668),(6,680),(7,682),(8,690),(9,705),(10,715),(11,718),(12,720),(13,723),(14,724),(15,726),(16,731),(17,735),(18,731),(19,731),(20,731),(21,736),(22,744),(23,744),(24,747),(25,754),(26,762),(27,767),(28,765),(29,764),(30,776),(31,781),(32,781),(33,782),(34,785),(35,794),(36,801),(37,808),(38,810),(39,810),(40,815)]
C_BLUE_LO = [(-10,1345),(-9,1357),(-8,1358),(-7,1368),(-6,1378),(-5.5,1380),(-5,1375),(-4,1365),(-3.2,1357),(-2.5,1360),(-2.2,1360),(-1.7,1345),(-1,1325),(-.5,1290),(-.2,1230),(.1,1160),(.6,1010),(1,930),(1.5,895),(2,877),(2.3,880),(2.6,905),(3,950),(3.5,990),(4,1010),(4.5,1007),(5,1003),(6,1015),(6.5,1040),(7,1050),(8,1058),(9,1070),(10,1095),(11,1105),(12,1125),(13,1128),(14,1128),(15,1135),(16,1137),(17,1149),(18,1144),(19,1153),(20,1155),(21,1153),(22,1158),(23,1164),(24,1173),(25,1176),(26,1179),(27,1174),(28,1174),(29,1174),(30,1178),(31,1196),(32,1199),(33,1197),(34,1196),(35,1197),(36,1210),(37,1217),(38,1214),(39,1221),(40,1219)]
C_BLACK = [(-10,1075),(-7,1074),(-4,1073),(-3,1075),(-2,1083),(-1,1092),(-.5,1097),(0,1103),(.5,1106),(1,1113),(1.5,1118),(2,1120),(3,1120),(4,1116),(5,1113),(7,1108),(10,1100),(12,1096),(15,1092),(20,1088),(30,1083),(40,1079)]
C_GRAY_UP = [(-10,825),(-5,822),(-3,830),(-2,843),(-1,858),(0,872),(1,887),(1.5,895),(2.5,898),(3,893),(4,885),(5,880),(7,870),(10,857),(15,848),(20,843),(30,833),(40,826)]
C_GRAY_LO = [(-10,1325),(-5,1323),(-3,1320),(-1,1325),(0,1330),(1,1338),(2,1343),(5,1343),(10,1342),(15,1338),(20,1336),(30,1334),(40,1331)]
C_TICKS = [-10, 0, 10, 20, 30, 40]

# ---------- Panel D ----------
D_TIME = [-1.5,-1.4,-1.3,-1.2,-1.1,-1.0,-.9,-.8,-.7,-.6,-.5,-.4,-.3,-.2,-.1,0,.1,.2,.3,.4,.5,.6,.7,.8,.9,1.0,1.1,1.2,1.3,1.4,1.5]
D_RED = [632,630,622,612,597,577,545,500,440,358,268,192,153,187,305,510,744,984,1156,1251,1257,1194,1092,984,880,792,724,673,636,611,594]
D_RED_UP = [580,582,578,570,555,532,497,448,380,290,197,120,90,130,240,420,639,880,1088,1199,1208,1138,1031,919,823,744,690,647,611,582,565]
D_RED_LO = [688,675,665,655,645,625,595,555,500,425,340,265,218,242,375,590,844,1074,1228,1300,1304,1253,1160,1052,937,840,765,708,668,639,618]
D_BLUE = [632,630,625,618,606,587,562,537,515,500,497,505,523,550,582,614,643,663,675,686,690,692,693,694,694,693,691,688,685,683,678]
D_BLUE_UP = [613,612,605,595,582,563,538,510,490,477,472,478,495,522,555,590,625,647,661,668,672,674,675,676,676,675,674,672,668,665,661]
D_BLUE_LO = [680,672,665,658,645,630,610,590,575,568,570,577,587,610,650,703,733,753,747,734,736,751,758,759,753,742,733,724,717,711,706]
D_BLACK = [633,634,635,636,636,637,636,635,634,633,630,626,623,622,624,628,634,641,644,643,638,634,631,629,627,626,626,626,626,627,627]
D_GRAY_UP = [622,622,621,621,620,620,620,619,619,618,617,613,608,608,611,615,622,630,632,627,623,618,614,609,606,601,599,596,594,593,593]
D_GRAY_LO = [652,652,652,652,652,652,651,650,648,646,643,639,635,633,636,640,644,654,657,657,652,650,647,648,649,650,652,655,656,657,659]
D_TICKS = [-1.5,-1.0,-0.5,0.0,0.5,1.0,1.5]

# ---------- figure ----------
W, H = 2384, 1888
sns.set_style("white")
plt.rcParams.update({"font.family": "DejaVu Sans", "mathtext.fontset": "cm"})
RED, BLUE, BLACK = "#ff0000", "#0000ff", "#000000"
FS = 13.6
fig = plt.figure(figsize=(W / 200, H / 200), dpi=200, facecolor="white")

def panel(l, t, r, b):
    ax = fig.add_axes([l / W, 1 - b / H, (r - l) / W, (b - t) / H])
    for s in ax.spines.values():
        s.set_linewidth(1.1); s.set_color("k"); s.set_visible(True)
    ax._px = (l, r)
    return ax

def scat(ax, pts, sx, ox, sy, oy, color, z):
    a = np.array(pts, float)
    sns.scatterplot(x=a[:, 0] / sx + ox, y=a[:, 1] / sy + oy, s=19, color=color,
                    edgecolor="k", linewidth=1.15, ax=ax, legend=False, zorder=z)

def band(ax, tu, u, tl, l, color):
    ax.fill(np.r_[tu, np.asarray(tl)[::-1]], np.r_[u, np.asarray(l)[::-1]],
            color=color, alpha=0.3, lw=0)

def line(ax, t, v, color):
    sns.lineplot(x=np.asarray(t), y=np.asarray(v), color=color, lw=2.2, ax=ax,
                 estimator=None, sort=False, legend=False)

def pair(p):
    return np.array(p, float).T

def ylab(ax, text, xpx, size=FS):
    l, r = ax._px
    ax.set_ylabel(text, fontsize=size, va="center")
    ax.yaxis.set_label_coords((xpx - l) / (r - l), 0.5)

# A
axA = panel(54.5, 10.5, 1138, 856.5)
axA.add_patch(Rectangle((637, 537), 352, 226, fill=False, ec="k", lw=1.1, zorder=1))
scat(axA, A_WHITE, 2.8, 600, 3, 500, "white", 2)
scat(axA, A_BLUE, 2.8, 600, 3, 500, BLUE, 3)
scat(axA, A_RED, 2.45, 0, 3, 0, RED, 3)
axA.set_xlim(54.5, 1138); axA.set_ylim(856.5, 10.5)

# B
axB = panel(1266, 3, 2349, 849)
scat(axB, B_WHITE_OUTER, 2.435, 1740, 1.823, 0, "white", 2)
scat(axB, B_WHITE_CORE, 2.435, 1740, 1.823, 0, "white", 2)
scat(axB, B_BLUE_OUTER, 2.8, 1240, 1.823, 0, BLUE, 3)
scat(axB, B_BLUE_CORE, 3, 1400, 3, 330, BLUE, 3)
axB.set_xlim(1266, 2349); axB.set_ylim(849, 3)

for ax, xpx in ((axA, 18), (axB, 1231)):
    ax.set_xticks([]); ax.set_yticks([])
    ax.set_xlabel("1st PCA component", fontsize=FS, labelpad=5.7)
    ylab(ax, "2nd PCA component", xpx)

# C
axC = panel(56.6, 949.5, 1140, 1796)
band(axC, *pair(C_RED_UP), *pair(C_RED_LO), RED)
band(axC, *pair(C_BLUE_UP), *pair(C_BLUE_LO), BLUE)
band(axC, *pair(C_GRAY_UP), *pair(C_GRAY_LO), BLACK)
line(axC, *pair(C_RED), RED)
line(axC, *pair(C_BLUE), BLUE)
line(axC, *pair(C_BLACK), BLACK)
axC.set_xlim(-10, 40); axC.set_ylim(1417, 32)
axC.set_xticks(C_TICKS)
axC.set_xlabel("Time (ms)", fontsize=FS, labelpad=2.3)
ylab(axC, r"$V_m$", 20, 14)

# D
axD = panel(1269.3, 940.4, 2352, 1786)
band(axD, D_TIME, D_RED_UP, D_TIME, D_RED_LO, RED)
band(axD, D_TIME, D_BLUE_UP, D_TIME, D_BLUE_LO, BLUE)
band(axD, D_TIME, D_GRAY_UP, D_TIME, D_GRAY_LO, BLACK)
line(axD, D_TIME, D_RED, RED)
line(axD, D_TIME, D_BLUE, BLUE)
line(axD, D_TIME, D_BLACK, BLACK)
axD.set_xlim(-1.5, 1.5); axD.set_ylim(1402, 17)
axD.set_xticks(D_TICKS)
axD.set_xlabel("Time (ms)", fontsize=FS, labelpad=2.3)
ylab(axD, r"$\frac{d^2}{dt^2}V_m$", 1224, 15.5)

for ax in (axC, axD):
    ax.set_yticks([])
    ax.tick_params(axis="x", which="major", direction="in", length=4, width=0.5,
                   top=True, bottom=True, labelsize=FS, pad=5.5, color="k")

for s, x, y in [("A", 12, 18), ("B", 1220, 15), ("C", 12, 965), ("D", 1220, 965)]:
    fig.text(x / W, 1 - y / H, s, fontsize=14, fontweight="bold", family="Liberation Sans",
             ha="center", va="center", color="k")

fig.savefig("out.png", dpi=200, facecolor="white")
